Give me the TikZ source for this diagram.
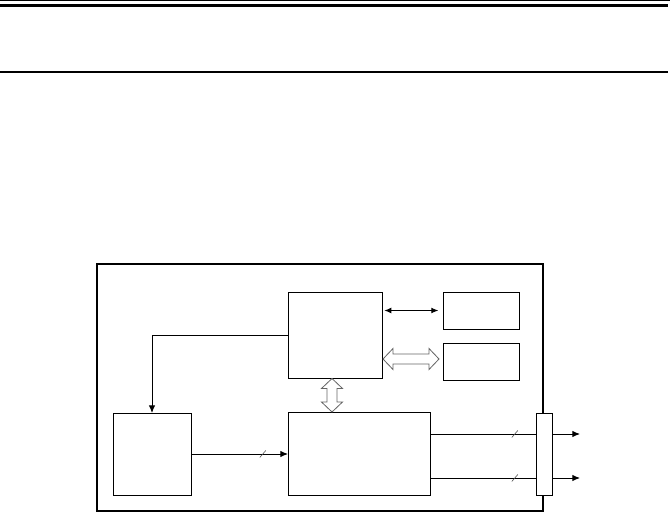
\documentclass[tikz,border=0pt]{standalone}
\usetikzlibrary{arrows.meta,calc}
\tikzset{
  blk/.style={draw, line width=0.8pt, fill=white, inner sep=0pt, outer sep=0pt},
  fat/.style={draw=black!60, line width=0.7pt, fill=white, line join=miter},
  tip/.style={-{Latex[length=6.5pt,width=5.5pt]}},
  slash/.style={line width=0.5pt, black!70},
}
\begin{document}
\begin{tikzpicture}[x=0.03cm, y=-0.03cm, line width=0.8pt]
    \useasboundingbox (0,0) rectangle (670,513);

    %header rules
    \draw[line width=0.8pt] (0,0.5) -- (670,0.5);
    \draw[line width=2.5pt] (0,5.5) -- (668,5.5);
    \draw[line width=1.2pt] (0,72) -- (668,72);

    %board
    \node[draw, line width=2pt, inner sep=0pt, minimum width=13.38cm, minimum height=7.41cm] (board) at (320,387.5) {};

    %blocks
    \node[blk, minimum width=2.82cm, minimum height=2.58cm] (cpu) at (335,335) {};
    \node[blk, minimum width=2.28cm, minimum height=1.11cm] (ram) at (481,310.5) {};
    \node[blk, minimum width=2.28cm, minimum height=1.11cm] (rom) at (481,361.5) {};
    \node[blk, minimum width=2.34cm, minimum height=2.46cm] (osc) at (152,454) {};
    \node[blk, minimum width=4.26cm, minimum height=2.49cm] (drv) at (359,453.5) {};
    \node[blk, minimum width=0.48cm, minimum height=2.46cm] (con) at (544,454) {};

    %signal lines
    \draw[tip] (cpu.west) -| (osc.north);
    \draw[{Latex[length=6pt,width=5pt]}-{Latex[length=6pt,width=5pt]}, shorten <=2pt, shorten >=4pt]
        (cpu.east |- ram.west) -- (ram.west);
    \draw[tip] (osc.east) -- coordinate[pos=0.74] (s1) (osc.east -| drv.west);
    \draw (drv.east |- 0,434) -- coordinate[pos=0.8] (s2) (con.west |- 0,434);
    \draw (drv.east |- 0,478) -- coordinate[pos=0.8] (s3) (con.west |- 0,478);
    \coordinate (out1) at (580,434);
    \coordinate (out2) at (580,478);
    \draw[tip] (con.east |- out1) -- (out1);
    \draw[tip] (con.east |- out2) -- (out2);

    %bus width marks
    \foreach \s in {s1,s2,s3}
        \draw[slash] (\s) +(-3,3.5) -- +(3,-3.5);

    %buses
    \coordinate (b1) at ($(cpu.east |- rom.west)+(1,-2.5)$);
    \coordinate (b2) at ($(cpu.south)+(-3,0.5)$);
    \draw[fat] (b1) -- ++(10,-10.5) -- ++(0,5.5) -- ++(36,0) -- ++(0,-5.5) -- ++(10,10.5)
        -- ++(-10,10.5) -- ++(0,-5.5) -- ++(-36,0) -- ++(0,5.5) -- cycle;
    \draw[fat] (b2) -- ++(10.5,10) -- ++(-5.5,0) -- ++(0,13.5) -- ++(5.5,0) -- ++(-10.5,10)
        -- ++(-10.5,-10) -- ++(5.5,0) -- ++(0,-13.5) -- ++(-5.5,0) -- cycle;
\end{tikzpicture}
\end{document}
